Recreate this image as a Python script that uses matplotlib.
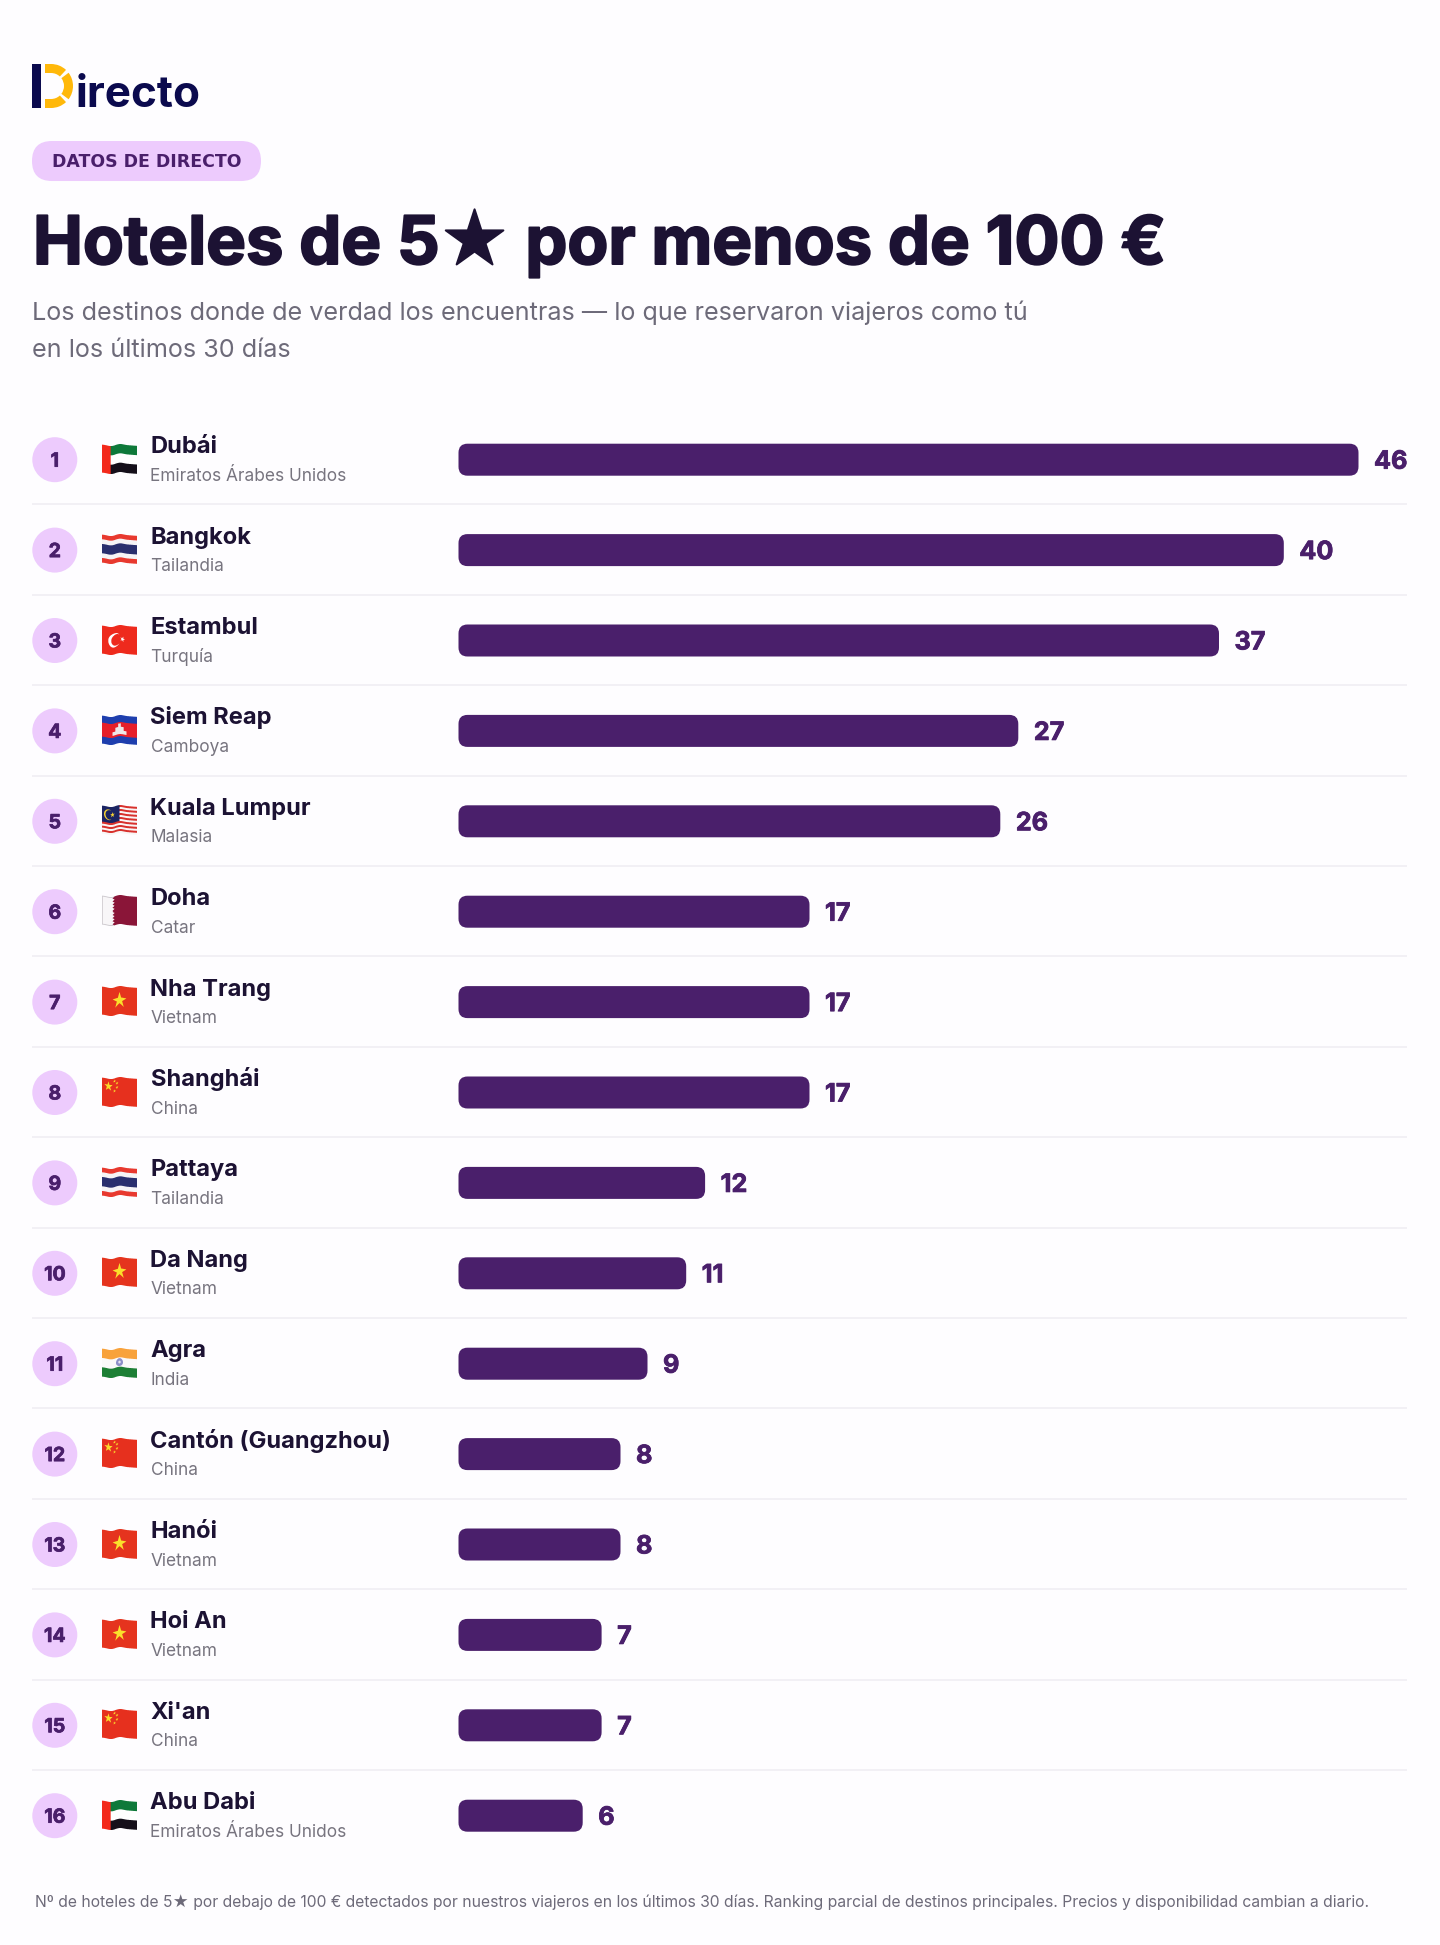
import numpy as np
import matplotlib
matplotlib.use("Agg")
import matplotlib.pyplot as plt
import matplotlib.patheffects as pe
from matplotlib.patches import FancyBboxPatch, Circle, Wedge, Rectangle
from matplotlib.path import Path

cities = ["Dubái", "Bangkok", "Estambul", "Siem Reap", "Kuala Lumpur", "Doha", "Nha Trang", "Shanghái",
          "Pattaya", "Da Nang", "Agra", "Cantón (Guangzhou)", "Hanói", "Hoi An", "Xi'an", "Abu Dabi"]
countries = ["Emiratos Árabes Unidos", "Tailandia", "Turquía", "Camboya", "Malasia", "Catar", "Vietnam", "China",
             "Tailandia", "Vietnam", "India", "China", "Vietnam", "Vietnam", "China", "Emiratos Árabes Unidos"]
hotels = [46, 40, 37, 27, 26, 17, 17, 17, 12, 11, 9, 8, 8, 7, 7, 6]
# Bar lengths as drawn in the reference, in % of the longest bar (they are not strictly proportional to the labels)
bar_pct = [100, 91.7, 84.5, 62.2, 60.2, 39, 39, 39, 27.4, 25.3, 21, 18, 18, 15.9, 15.9, 13.8]
flag_codes = ["AE", "TH", "TR", "KH", "MY", "QA", "VN", "CN", "TH", "VN", "IN", "CN", "VN", "VN", "CN", "AE"]

W, H = 1440, 1945
PURPLE = "#4A1F6B"; LILAC = "#EDCBFD"; INK = "#1C1233"; GREY = "#6D6A79"; BG = "#FEFDFF"
px = 0.72
FAM = ["Inter", "DejaVu Sans"]

def heavy(lw, col):
    return [pe.withStroke(linewidth=lw*px, foreground=col)]

fig = plt.figure(figsize=(W/100, H/100), dpi=100, facecolor=BG)
ov = fig.add_axes([0, 0, 1, 1]); ov.set_xlim(0, W); ov.set_ylim(H, 0); ov.axis("off")

# ---- header
ov.add_patch(Rectangle((32, 64), 9, 44, fc="#0B0A4E", ec="none"))
Y = "#FFB80A"; cx, cy, ro, ri = 51.0, 86.0, 22.0, 13.0
ov.add_patch(Rectangle((45, 64), 6.5, 9, fc=Y, ec="none"))
ov.add_patch(Rectangle((45, 99), 6.5, 9, fc=Y, ec="none"))
for a, b in [(-90, -47), (-37, 37), (47, 90)]:
    ov.add_patch(Wedge((cx, cy), ro, a, b, width=ro-ri, fc=Y, ec="none"))
ov.text(76, 107, "irecto", family=FAM, weight="bold", fontsize=44*px, color="#0B0A4E", va="baseline")

ov.add_patch(FancyBboxPatch((32+20, 141+20), 229-40, 0.01, boxstyle="round,pad=20,rounding_size=20", fc=LILAC, ec="none"))
ov.text(146.5, 167, "DATOS DE DIRECTO", family="DejaVu Sans", weight="bold", fontsize=17.4*px, color=PURPLE, ha="center", va="baseline")
ov.text(33, 264, "Hoteles de 5★ por menos de 100 €", family=FAM, weight="bold", fontsize=66.8*px, color=INK, va="baseline",
        path_effects=heavy(2.0, INK))
ov.text(32, 320, "Los destinos donde de verdad los encuentras — lo que reservaron viajeros como tú",
        family=FAM, fontsize=25.2*px, color=GREY, va="baseline")
ov.text(32, 357, "en los últimos 30 días", family=FAM, fontsize=25.2*px, color=GREY, va="baseline")
ov.text(35, 1907, "Nº de hoteles de 5★ por debajo de 100 € detectados por nuestros viajeros en los últimos 30 días. "
        "Ranking parcial de destinos principales. Precios y disponibilidad cambian a diario.",
        family=FAM, fontsize=15.69*px, color=GREY, va="baseline")

# ---- flags (small raster drawings)
def star_mask(x, y, cx, cy, r, rot=0.0):
    verts = Path.unit_regular_star(5, 0.382).vertices * r
    c, s = np.cos(rot), np.sin(rot)
    vx = verts[:, 0]*c - verts[:, 1]*s + cx
    vy = -(verts[:, 0]*s + verts[:, 1]*c) + cy
    p = Path(np.c_[vx, vy])
    return p.contains_points(np.c_[x.ravel(), y.ravel()]).reshape(x.shape)

def rgb(h):
    return np.array(matplotlib.colors.to_rgb(h))

def flag_pixels(code, wpx=35, hpx=32, ss=6):
    n, m = hpx*ss, wpx*ss
    yy, xx = np.mgrid[0:n, 0:m]
    u = (xx+.5)/m
    fh = 28.0/hpx
    wave = 0.03*np.sin(2*np.pi*(1.45*u)+2.7) + 0.01*np.sin(2*np.pi*2.6*u)
    v = (((yy+.5)/n) - .5)/fh + .5 + wave
    img = np.zeros((n, m, 4))
    def put(mask, col):
        img[mask, :3] = rgb(col)
    a = 1.4  # x/y aspect of the flag
    X, Yc = u*a, v
    if code == "AE":
        put(v < 1/3, "#0F7A3A"); put((v >= 1/3) & (v < 2/3), "#FFFFFF"); put(v >= 2/3, "#15101A"); put(u < .25, "#F3291B")
    elif code == "TH":
        put(np.ones_like(u, bool), "#E8392F"); put((v > 1/6) & (v < 5/6), "#F7F5F7"); put((v > 1/3) & (v < 2/3), "#2A2F6E")
    elif code == "TR":
        put(np.ones_like(u, bool), "#EE2A1D")
        d1 = np.hypot(X-.5, Yc-.5); d2 = np.hypot(X-.57, Yc-.5)
        put((d1 < .25) & (d2 > .2), "#FFFFFF"); put(star_mask(X, Yc, .82, .5, .1, -np.pi/2), "#FFFFFF")
    elif code == "KH":
        put(np.ones_like(u, bool), "#1F3FAE"); put((v > .25) & (v < .75), "#E6202A")
        t = ((np.abs(u-.5) < .2) & (v > .55) & (v < .68)) | ((np.abs(u-.5) < .12) & (v > .42) & (v < .68)) | ((np.abs(u-.5) < .04) & (v > .3) & (v < .68))
        put(t, "#EDE6E8")
    elif code == "MY":
        s = np.floor(np.clip(v, 0, .9999)*14).astype(int)
        put(s % 2 == 0, "#D8312D"); put(s % 2 == 1, "#FAF6F6")
        put((u < .5) & (v < 8/14), "#1B2463")
        d1 = np.hypot(X-.27, Yc-.285); d2 = np.hypot(X-.31, Yc-.285)
        put((d1 < .19) & (d2 > .17), "#F7D332"); put(star_mask(X, Yc, .42, .285, .1), "#F7D332")
    elif code == "QA":
        z = .3 + .06*np.abs(((v*9) % 1)*2-1)
        put(np.ones_like(u, bool), "#8A1538"); put(u < z, "#F9F7F9")
        edge = (u < .025) | (((v < .035) | (v > .965)) & (u < z))
        put(edge, "#CFCBD0")
    elif code == "VN":
        put(np.ones_like(u, bool), "#E5341F"); put(star_mask(X, Yc, .7, .5, .29), "#FBE02B")
    elif code == "CN":
        put(np.ones_like(u, bool), "#E6301F")
        put(star_mask(X, Yc, .26, .27, .18), "#FBDB2B")
        for sx, sy in [(.5, .1), (.6, .2), (.6, .35), (.5, .45)]:
            put(star_mask(X, Yc, sx, sy, .06), "#FBDB2B")
    elif code == "IN":
        put(v < 1/3, "#F9A23C"); put((v >= 1/3) & (v < 2/3), "#FBFAFA"); put(v >= 2/3, "#1E7F35")
        put(np.hypot(X-.7, Yc-.5) < .14, "#8C8FC8")
        put(np.hypot(X-.7, Yc-.5) < .05, "#E7E5F2")
    inside = (v >= 0) & (v <= 1)
    img[..., 3] = inside
    img[..., :3] *= img[..., 3:]
    out = img.reshape(hpx, ss, wpx, ss, 4).mean(axis=(1, 3))
    al = np.clip(out[..., 3:], 1e-6, 1)
    out[..., :3] = out[..., :3]/al
    return out

# ---- rows
y0, pitch = 459.7, 90.4
for i in range(16):
    yc = y0 + i*pitch
    ov.add_patch(Circle((54.8, yc), 22.5, fc=LILAC, ec="none"))
    ov.text(54.8, yc, str(i+1), family=FAM, weight="bold", fontsize=19.5*px, color=PURPLE, ha="center", va="center_baseline",
            path_effects=heavy(0.7, PURPLE))
    t = int(round(yc-17))
    ov.imshow(flag_pixels(flag_codes[i]), extent=(102, 137, t+32, t), interpolation="nearest", aspect="auto", zorder=2)
    ov.text(150.5, yc-6.5, cities[i], family=FAM, weight="bold", fontsize=23.7*px, color=INK, va="baseline")
    ov.text(150.5, yc+21, countries[i], family=FAM, fontsize=17.3*px, color="#77747F", va="baseline")
    if i < 15:
        ov.plot([32, 1407], [yc+44.6]*2, color="#EFEDF2", lw=1.5*px, solid_capstyle="butt")
ov.set_xlim(0, W); ov.set_ylim(H, 0)

# ---- bars
left, right = 458.5, 1358.5
top = y0 - pitch/2; bottom = y0 + 15.5*pitch
ax = fig.add_axes([left/W, 1-bottom/H, (right-left)/W, (bottom-top)/H])
ax.set_xlim(0, 100); ax.set_ylim(15.5, -.5); ax.axis("off"); ax.patch.set_alpha(0)
xs = 100/(right-left); ys = 1/pitch   # data units per pixel
bh = 32*ys
for i, (w, v) in enumerate(zip(bar_pct, hotels)):
    ax.add_patch(FancyBboxPatch((0, i-bh/2), w, bh, boxstyle=f"round,pad=0,rounding_size={9*xs}",
                                mutation_aspect=ys/xs, fc=PURPLE, ec="none", clip_on=False))
    ax.annotate(str(v), (w, i), xytext=(15.5*px, 0), textcoords="offset points", annotation_clip=False,
                family=FAM, weight="bold", fontsize=25.2*px, color=PURPLE, va="center_baseline",
                path_effects=heavy(0.8, PURPLE))

fig.savefig("out.png", dpi=100, facecolor=BG)
